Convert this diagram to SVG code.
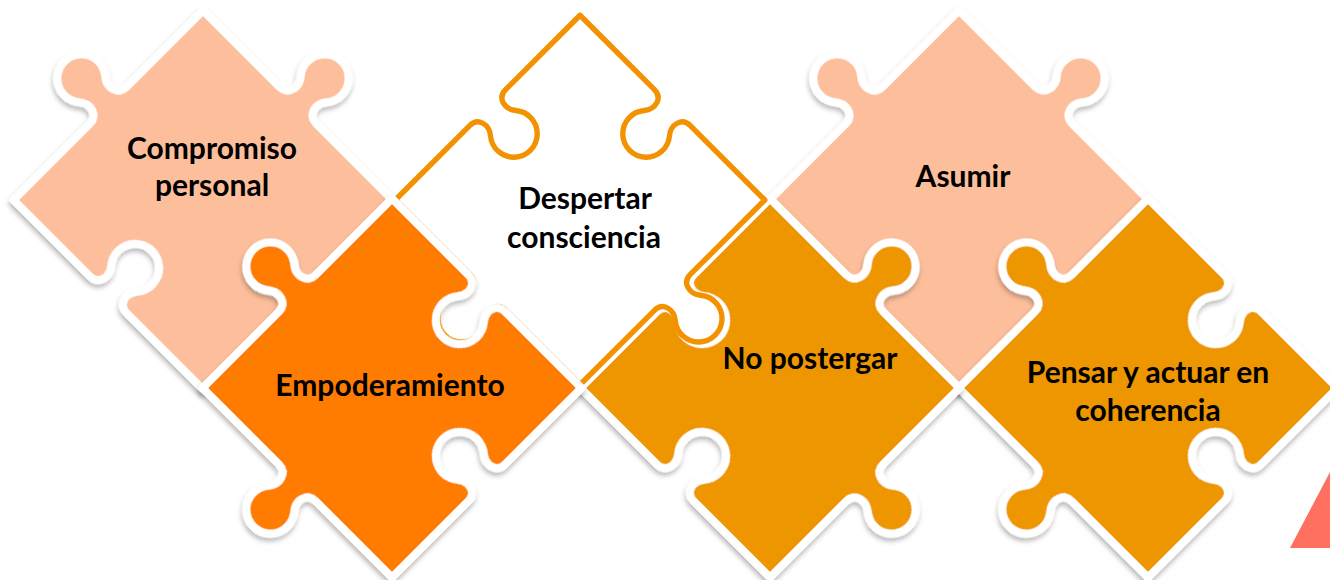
<svg xmlns="http://www.w3.org/2000/svg" width="1330" height="580" viewBox="0 0 1330 580">
<style>
.pc{stroke:#fff;stroke-width:8;stroke-linejoin:round;filter:url(#sh)}
.peach{fill:#FDBE9B}
.orange{fill:#FF7B00}
.gold{fill:#EE9600}
.outline{fill:#fff;stroke:#F39200;stroke-width:5.5;stroke-linejoin:round}
.t{font-family:Lato,"Open Sans","Liberation Sans",sans-serif;font-weight:700;font-size:30px;fill:#000;text-anchor:middle}
</style>
<defs>
<filter id="sh" x="-20%" y="-20%" width="140%" height="140%">
<feDropShadow dx="2" dy="3" stdDeviation="2.5" flood-color="#000" flood-opacity="0.28"/>
</filter>
<path id="A" d="M -134,-134 L -26,-134 C -14,-134 -10.7,-147.4 -18.4,-156.6 A 24 24 0 1 1 18.4,-156.6 C 10.7,-147.4 14,-134 26,-134 L 134,-134 L 134,-26 C 134,-14 120.6,-10.7 111.4,-18.4 A 24 24 0 1 0 111.4,18.4 C 120.6,10.7 134,14 134,26 L 134,134 L 26,134 C 14,134 10.7,120.6 18.4,111.4 A 24 24 0 1 0 -18.4,111.4 C -10.7,120.6 -14,134 -26,134 L -134,134 L -134,26 C -134,14 -147.4,10.7 -156.6,18.4 A 24 24 0 1 1 -156.6,-18.4 C -147.4,-10.7 -134,-14 -134,-26 Z"/>
<path id="B" d="M -134,-134 L -26,-134 C -14,-134 -10.7,-120.6 -18.4,-111.4 A 24 24 0 1 0 18.4,-111.4 C 10.7,-120.6 14,-134 26,-134 L 134,-134 L 134,-26 C 134,-14 147.4,-10.7 156.6,-18.4 A 24 24 0 1 1 156.6,18.4 C 147.4,10.7 134,14 134,26 L 134,134 L 26,134 C 14,134 10.7,147.4 18.4,156.6 A 24 24 0 1 1 -18.4,156.6 C -10.7,147.4 -14,134 -26,134 L -134,134 L -134,26 C -134,14 -120.6,10.7 -111.4,18.4 A 24 24 0 1 0 -111.4,-18.4 C -120.6,-10.7 -134,-14 -134,-26 Z"/>
<path id="C" d="M -134,-134 L -26,-134 C -14,-134 -10.7,-120.6 -18.4,-111.4 A 24 24 0 1 0 18.4,-111.4 C 10.7,-120.6 14,-134 26,-134 L 134,-134 L 134,-26 C 134,-14 120.6,-10.7 111.4,-18.4 A 24 24 0 1 0 111.4,18.4 C 120.6,10.7 134,14 134,26 L 134,134 L 26,134 C 14,134 10.7,147.4 18.4,156.6 A 24 24 0 1 1 -18.4,156.6 C -10.7,147.4 -14,134 -26,134 L -134,134 L -134,26 C -134,14 -147.4,10.7 -156.6,18.4 A 24 24 0 1 1 -156.6,-18.4 C -147.4,-10.7 -134,-14 -134,-26 Z"/>
<path id="D" d="M -134,-134 L -26,-134 C -14,-134 -10.7,-147.4 -18.4,-156.6 A 24 24 0 1 1 18.4,-156.6 C 10.7,-147.4 14,-134 26,-134 L 134,-134 L 134,-26 C 134,-14 147.4,-10.7 156.6,-18.4 A 24 24 0 1 1 156.6,18.4 C 147.4,10.7 134,14 134,26 L 134,134 L 26,134 C 14,134 10.7,120.6 18.4,111.4 A 24 24 0 1 0 -18.4,111.4 C -10.7,120.6 -14,134 -26,134 L -134,134 L -134,26 C -134,14 -120.6,10.7 -111.4,18.4 A 24 24 0 1 0 -111.4,-18.4 C -120.6,-10.7 -134,-14 -134,-26 Z"/>
</defs>
<rect width="1330" height="580" fill="#fff"/>
<polygon points="1290,548 1330,548 1330,472" fill="#FF7060"/>
<g id="compromiso">
<use href="#A" class="pc peach" transform="translate(203,200) rotate(45)"/>
<text class="t" x="212" y="159">Compromiso</text>
<text class="t" x="212" y="196">personal</text>
</g>
<g id="asumir">
<use href="#A" class="pc peach" transform="translate(959,200) rotate(45)"/>
<text class="t" x="963" y="187">Asumir</text>
</g>
<g id="pensar">
<use href="#C" class="pc gold" transform="translate(1148,388) rotate(45)"/>
<text class="t" x="1148" y="383">Pensar y actuar en</text>
<text class="t" x="1148" y="421">coherencia</text>
</g>
<g id="no-postergar">
<use href="#D" class="pc gold" transform="translate(770,388) rotate(45)"/>
<text class="t" x="810" y="369">No postergar</text>
</g>
<g id="despertar">
<use href="#B" class="outline" transform="translate(580,200) rotate(45) scale(0.975)"/>
<text class="t" x="585" y="209">Despertar</text>
<text class="t" x="584" y="248">consciencia</text>
</g>
<g id="empoderamiento">
<use href="#C" class="pc orange" transform="translate(392,388) rotate(45)"/>
<text class="t" x="390" y="396">Empoderamiento</text>
</g>
<g id="connectors"></g>
</svg>
